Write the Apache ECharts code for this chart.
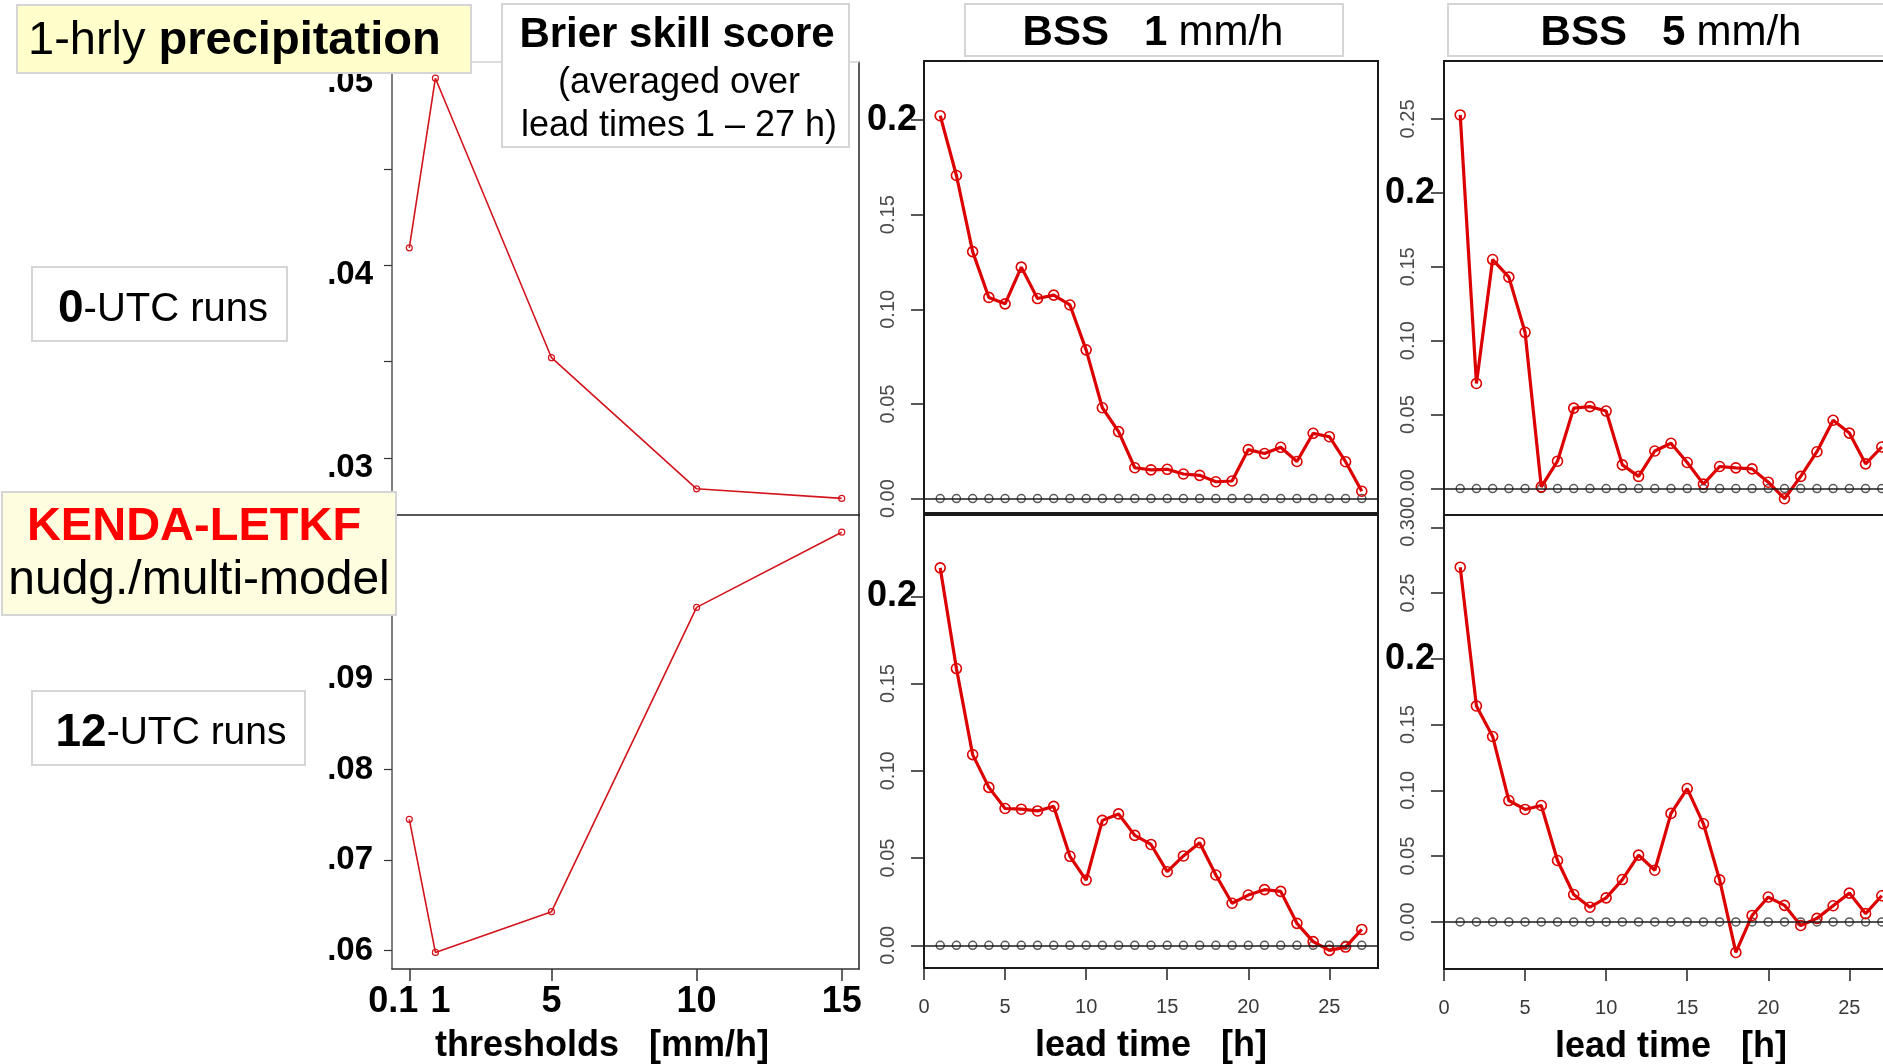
<!DOCTYPE html>
<html>
<head>
<meta charset="utf-8">
<title>Brier skill score – 1-hrly precipitation</title>
<script src="https://cdn.jsdelivr.net/npm/echarts@6/dist/echarts.min.js"></script>
<style>
  html, body { margin: 0; padding: 0; background: #ffffff; }
  #chart { width: 1883px; height: 1064px; }
</style>
</head>
<body>
<div id="chart"></div>
<script>
// ---- data -------------------------------------------------------------
// BSS averaged over lead times 1-27 h, per precipitation threshold [mm/h]
const thresholds      = [0.1, 1, 5, 10, 15];
const thresholdLabels = ['0.1', '1', '5', '10', '15'];
const thresholdTicks  = [0.1, 5, 10, 15];
const bssThr00 = [0.0409, 0.0497, 0.0352, 0.0284, 0.0279];
const bssThr12 = [0.0745, 0.0598, 0.0643, 0.0979, 0.1062];

const thrTicks00  = [0.03, 0.035, 0.04, 0.045, 0.05];
const thrLabels00 = [0.03, 0.04, 0.05];
const thrTicks12  = [0.06, 0.07, 0.08, 0.09];

// BSS per lead time [h]
const leadTimes = [1, 2, 3, 4, 5, 6, 7, 8, 9, 10, 11, 12, 13, 14, 15, 16, 17, 18, 19, 20, 21, 22, 23, 24, 25, 26, 27];
const refZero   = [0, 0, 0, 0, 0, 0, 0, 0, 0, 0, 0, 0, 0, 0, 0, 0, 0, 0, 0, 0, 0, 0, 0, 0, 0, 0, 0];
const bss1mm00 = [0.2023, 0.1707, 0.1305, 0.1063, 0.1029, 0.1223, 0.1057, 0.1075, 0.1023, 0.0786,
                  0.0480, 0.0354, 0.0163, 0.0152, 0.0155, 0.0130, 0.0123, 0.0089, 0.0093, 0.0259,
                  0.0238, 0.0271, 0.0196, 0.0345, 0.0327, 0.0195, 0.0039];
const bss1mm12 = [0.2163, 0.1586, 0.1093, 0.0905, 0.0784, 0.0780, 0.0770, 0.0796, 0.0510, 0.0374,
                  0.0716, 0.0753, 0.0630, 0.0578, 0.0422, 0.0512, 0.0588, 0.0403, 0.0241, 0.0288,
                  0.0319, 0.0309, 0.0126, 0.0021, -0.0029, -0.0010, 0.0091];
const bss5mm00 = [0.2527, 0.0711, 0.1549, 0.1430, 0.1057, 0.0011, 0.0185, 0.0544, 0.0554, 0.0524,
                  0.0160, 0.0082, 0.0254, 0.0306, 0.0176, 0.0030, 0.0149, 0.0140, 0.0133, 0.0043,
                  -0.0069, 0.0082, 0.0249, 0.0462, 0.0375, 0.0167, 0.0281];
const bss5mm12 = [0.2697, 0.1642, 0.1410, 0.0923, 0.0855, 0.0885, 0.0467, 0.0208, 0.0112, 0.0183,
                  0.0322, 0.0508, 0.0393, 0.0825, 0.1014, 0.0746, 0.0320, -0.0232, 0.0049, 0.0189,
                  0.0126, -0.0027, 0.0027, 0.0123, 0.0219, 0.0063, 0.0199];

const leadTicks    = [0, 5, 10, 15, 20, 25];
const bssTicks     = [0, 0.05, 0.10, 0.15, 0.20];
const bssTicksHigh = [0, 0.05, 0.10, 0.15, 0.20, 0.25];
const bssTicksTop  = [0, 0.05, 0.10, 0.15, 0.20, 0.25, 0.30];
const bssLabels     = [0, 0.05, 0.10, 0.15];
const bssLabelsHigh = [0, 0.05, 0.10, 0.15, 0.25];
const bssLabelsTop  = [0, 0.05, 0.10, 0.15, 0.25, 0.30];
const boldTick = [0.2];

// ---- styling helpers -------------------------------------------------
const FONT = '"Liberation Sans", Arial, Helvetica, sans-serif';
const RED = '#dc0000';
const RED_THIN = '#d3141c';
const pairs = (xs, ys) => xs.map((x, i) => [x, ys[i]]);

const grids = [
  { left: 392,  top: 62,  width: 467, height: 453 },  // thresholds, 0 UTC
  { left: 392,  top: 515, width: 467, height: 454 },  // thresholds, 12 UTC
  { left: 924,  top: 61,  width: 454, height: 452 },  // 1 mm/h, 0 UTC
  { left: 924,  top: 515, width: 454, height: 453 },  // 1 mm/h, 12 UTC
  { left: 1444, top: 61,  width: 454, height: 454 },  // 5 mm/h, 0 UTC
  { left: 1444, top: 515, width: 454, height: 454 }   // 5 mm/h, 12 UTC
].map((g, i) => Object.assign(g, {
  show: i >= 2,
  borderColor: '#1a1a1a',
  borderWidth: 2,
  backgroundColor: 'transparent',
  containLabel: false,
  outerBoundsMode: 'none'
}));

const xAxes = [];
const yAxes = [];
const series = [];
const noSplit = { show: false };

// thresholds panels ------------------------------------------------------
const thrRange = { min: -0.496, max: 15.596 };
xAxes.push(Object.assign({ gridIndex: 0, type: 'value', position: 'bottom',
  axisLine: { show: true, onZero: false, lineStyle: { color: '#222', width: 1.5 } },
  axisTick: { show: false }, axisLabel: { show: false }, splitLine: noSplit }, thrRange));
xAxes.push(Object.assign({ gridIndex: 0, type: 'value', position: 'top',
  axisLine: { show: true, onZero: false, lineStyle: { color: '#d2d2d2', width: 1.5 } },
  axisTick: { show: false }, axisLabel: { show: false }, splitLine: noSplit }, thrRange));
const boldThr = { fontSize: 36, fontWeight: 'bold', color: '#000', fontFamily: FONT };
xAxes.push(Object.assign({ gridIndex: 1, type: 'value', position: 'bottom',
  axisLine: { show: true, onZero: false, lineStyle: { color: '#333', width: 1.5 } },
  axisTick: { show: true, length: 12, customValues: thresholdTicks, lineStyle: { color: '#333', width: 1.5 } },
  axisLabel: {
    show: true, margin: 15, customValues: thresholds, hideOverlap: false,
    fontSize: 36, fontWeight: 'bold', color: '#000', fontFamily: FONT,
    formatter: (v) => {
      const i = thresholds.findIndex(t => Math.abs(t - v) < 1e-9);
      const s = thresholdLabels[i];
      if (i === 0) return '{l|' + s + '}';
      if (i === 1) return '{r|' + s + '}';
      return s;
    },
    rich: {
      l: Object.assign({ padding: [0, 32, 0, 0] }, boldThr),
      r: Object.assign({ padding: [0, 0, 0, 10] }, boldThr)
    }
  },
  name: 'thresholds   [mm/h]', nameLocation: 'middle', nameGap: 59, nameMoveOverlap: false,
  nameTextStyle: { fontSize: 36, fontWeight: 'bold', color: '#000', fontFamily: FONT, padding: [0, 47, 0, 0] },
  splitLine: noSplit }, thrRange));

function thresholdY(gridIndex, min, max, ticks, labels, shiftDown) {
  const lab = { fontSize: 33, fontWeight: 'bold', color: '#000', fontFamily: FONT,
    padding: [shiftDown * 2, 0, 0, 0] };
  yAxes.push({ gridIndex, type: 'value', position: 'left', min, max,
    axisLine: { show: true, onZero: false, lineStyle: { color: '#555', width: 1.5 } },
    axisTick: { show: true, length: 8, customValues: ticks, lineStyle: { color: '#333', width: 1.2 } },
    axisLabel: { show: true, margin: 19, customValues: labels, hideOverlap: false,
      fontSize: 33, fontWeight: 'bold', color: '#000', fontFamily: FONT,
      formatter: (v) => '{t|' + v.toFixed(2).replace(/^0/, '') + '}',
      rich: { t: lab } },
    splitLine: noSplit });
  const yi = yAxes.length - 1;
  yAxes.push({ gridIndex, type: 'value', position: 'right', min, max,
    axisLine: { show: true, onZero: false, lineStyle: { color: '#222', width: 1.5 } },
    axisTick: { show: false }, axisLabel: { show: false }, splitLine: noSplit });
  return yi;
}
const yThr00 = thresholdY(0, 0.02704, 0.05054, thrTicks00, thrLabels00, 10);
const yThr12 = thresholdY(1, 0.05797, 0.1081, thrTicks12, thrTicks12, 0);

function thresholdSeries(name, xi, yi, values) {
  series.push({ name, type: 'line', xAxisIndex: xi, yAxisIndex: yi,
    data: pairs(thresholds, values),
    symbol: 'circle', symbolSize: 6,
    itemStyle: { color: 'rgba(255,255,255,0)', borderColor: RED_THIN, borderWidth: 1.2 },
    lineStyle: { color: RED_THIN, width: 1.6 },
    z: 3 });
}
thresholdSeries('0 UTC', 0, yThr00, bssThr00);
thresholdSeries('12 UTC', 2, yThr12, bssThr12);

// lead-time panels -------------------------------------------------------
function leadPanel(gridIndex, yMin, yMax, ticks, labels, values, withXAxis, boldMargin) {
  xAxes.push({ gridIndex, type: 'value', position: 'bottom', min: 0, max: 28,
    show: withXAxis,
    axisLine: { show: false, onZero: false },
    axisTick: { show: withXAxis, length: 12, customValues: leadTicks, lineStyle: { color: '#222', width: 1.5 } },
    axisLabel: { show: withXAxis, margin: 29, customValues: leadTicks, hideOverlap: false,
      fontSize: 20, color: '#3a3a3a', fontFamily: FONT },
    name: withXAxis ? 'lead time   [h]' : '', nameLocation: 'middle', nameGap: 60, nameMoveOverlap: false,
    nameTextStyle: { fontSize: 36, fontWeight: 'bold', color: '#000', fontFamily: FONT },
    splitLine: noSplit });
  const xi = xAxes.length - 1;
  yAxes.push({ gridIndex, type: 'value', position: 'left', min: yMin, max: yMax,
    axisLine: { show: false, onZero: false },
    axisTick: { show: true, length: 13, customValues: ticks, lineStyle: { color: '#222', width: 1.5 } },
    axisLabel: { show: true, rotate: 90, margin: 26, customValues: labels, hideOverlap: false,
      fontSize: 20, color: '#4a4a4a', fontFamily: FONT, formatter: (v) => v.toFixed(2) },
    splitLine: noSplit });
  const yi = yAxes.length - 1;
  yAxes.push({ gridIndex, type: 'value', position: 'left', min: yMin, max: yMax,
    axisLine: { show: false, onZero: false }, axisTick: { show: false },
    axisLabel: { show: true, margin: boldMargin, customValues: boldTick, hideOverlap: false,
      fontSize: 36, fontWeight: 'bold', color: '#000', fontFamily: FONT, formatter: (v) => String(v) },
    splitLine: noSplit });

  series.push({ name: 'reference', type: 'line', xAxisIndex: xi, yAxisIndex: yi,
    data: pairs(leadTimes, refZero),
    symbol: 'circle', symbolSize: 8,
    itemStyle: { color: 'rgba(255,255,255,0)', borderColor: '#5a5a5a', borderWidth: 1.5 },
    lineStyle: { width: 0, opacity: 0 },
    markLine: { silent: true, symbol: 'none', label: { show: false },
      lineStyle: { color: '#1a1a1a', width: 1.5, type: 'solid' },
      emphasis: { disabled: true },
      data: [{ yAxis: 0 }] },
    z: 2 });
  series.push({ name: 'BSS', type: 'line', xAxisIndex: xi, yAxisIndex: yi,
    data: pairs(leadTimes, values),
    symbol: 'circle', symbolSize: 10,
    itemStyle: { color: 'rgba(255,255,255,0)', borderColor: RED, borderWidth: 1.6 },
    lineStyle: { color: RED, width: 3.2 },
    z: 3 });
}
leadPanel(2, -0.0076, 0.2312, bssTicks, bssLabels, bss1mm00, false, 7);
leadPanel(3, -0.0130, 0.2466, bssTicks, bssLabels, bss1mm12, true, 7);
leadPanel(4, -0.0179, 0.2892, bssTicksHigh, bssLabelsHigh, bss5mm00, false, 9);
leadPanel(5, -0.0358, 0.3094, bssTicksTop, bssLabelsTop, bss5mm12, true, 9);

// ---- annotation boxes --------------------------------------------------
const box = (x, y, w, h, fill) => ({ type: 'rect', z: 100, silent: true,
  shape: { x, y, width: w, height: h },
  style: { fill, stroke: '#d5d5d5', lineWidth: 2 } });
const tok = (size, bold, fill) => ({ fontSize: size, fontWeight: bold ? 'bold' : 'normal', fontFamily: FONT, fill: fill || '#000' });
const text = (x, y, str, rich, align) => ({ type: 'text', z: 101, silent: true, x, y,
  style: { text: str, rich, align: align || 'center', verticalAlign: 'middle',
    fontFamily: FONT, fontSize: 40, fill: '#000' } });

const graphic = [
  box(17, 5, 454, 68, '#ffffcc'),
  text(28, 41.5, '{n|1-hrly }{b|precipitation}', { n: tok(47, false), b: tok(47, true) }, 'left'),

  box(502, 4, 347, 143, '#ffffff'),
  text(677, 35, '{b|Brier skill score}', { b: tok(42, true) }),
  text(679, 83, '{n|(averaged over}', { n: tok(36, false) }),
  text(679, 126, '{n|lead times 1 \u2013 27 h)}', { n: tok(36, false) }),

  box(32, 267, 255, 74, '#ffffff'),
  text(163, 309.5, '{b|0}{n|-UTC runs}', { b: tok(46, true), n: tok(40, false) }),

  box(2, 492, 394, 123, '#fffde0'),
  text(194, 527, '{r|KENDA-LETKF}', { r: tok(47, true, '#ff0000') }),
  text(199, 581, '{n|nudg./multi-model}', { n: tok(48, false) }),

  box(32, 691, 273, 74, '#ffffff'),
  text(171, 733, '{b|12}{n|-UTC runs}', { b: tok(46, true), n: tok(39, false) }),

  box(965, 4, 378, 52, '#ffffff'),
  text(1153, 33.5, '{b|BSS   1} {n|mm/h}', { b: tok(42, true), n: tok(42, false) }),

  box(1448, 4, 460, 52, '#ffffff'),
  text(1671, 33.5, '{b|BSS   5} {n|mm/h}', { b: tok(42, true), n: tok(42, false) })
];

const chart = echarts.init(document.getElementById('chart'), null, { renderer: 'canvas' });
chart.setOption({
  animation: false,
  backgroundColor: '#ffffff',
  textStyle: { fontFamily: FONT },
  grid: grids,
  xAxis: xAxes,
  yAxis: yAxes,
  series: series,
  graphic: graphic
});
</script>
</body>
</html>
